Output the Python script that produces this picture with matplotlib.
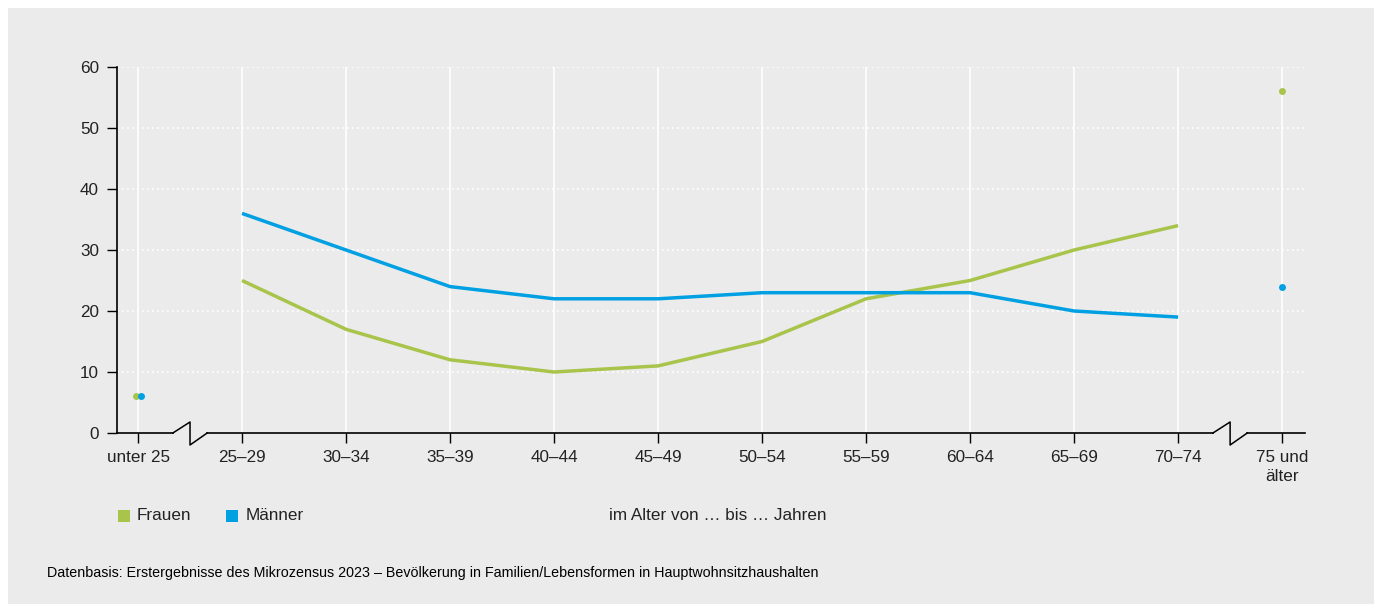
import matplotlib.pyplot as plt
from matplotlib.patches import Rectangle
import matplotlib.transforms as mtransforms

# data
categories = ["unter 25", "25–29", "30–34", "35–39", "40–44", "45–49",
              "50–54", "55–59", "60–64", "65–69", "70–74", "75 und\nälter"]
frauen = [6, 25, 17, 12, 10, 11, 15, 22, 25, 30, 34, 56]
maenner = [6, 36, 30, 24, 22, 22, 23, 23, 23, 20, 19, 24]
yticks = [0, 10, 20, 30, 40, 50, 60]

green = "#a8c44b"
blue = "#00a0e3"
bg = "#ebebeb"
txt = "#222222"
fs = 12.3

plt.rcParams["font.family"] = ["Liberation Sans", "DejaVu Sans"]

fig = plt.figure(figsize=(13.74, 6.04), dpi=100)
fig.patches.append(Rectangle((8 / 1374, 0), 1, 1 - 8 / 604, transform=fig.transFigure,
                             facecolor=bg, edgecolor="none", zorder=-10))

ax = fig.add_axes([117 / 1374, 1 - 433 / 604, (1305 - 117) / 1374, (433 - 67) / 604])
ax.set_facecolor(bg)
ax.set_xlim(-0.202, 11.22)
ax.set_ylim(0, 60)

x = list(range(len(categories)))

# grid
for xi in x:
    ax.axvline(xi, color="white", lw=1.2, zorder=1)
for yv in yticks[1:]:
    ax.axhline(yv, color="white", lw=1.2, ls=(0, (1, 2)), zorder=1)

# lines (25-29 .. 70-74)
ax.plot(x[1:11], frauen[1:11], color=green, lw=2.5, zorder=3, solid_capstyle="butt")
ax.plot(x[1:11], maenner[1:11], color=blue, lw=2.5, zorder=3, solid_capstyle="butt")

# single points
off_l = mtransforms.offset_copy(ax.transData, fig=fig, x=-2.5, y=0, units="dots")
off_r = mtransforms.offset_copy(ax.transData, fig=fig, x=2.5, y=0, units="dots")
ax.plot([x[0]], [frauen[0]], "o", color=green, ms=5, transform=off_l, zorder=4, mec="none")
ax.plot([x[0]], [maenner[0]], "o", color=blue, ms=5, transform=off_r, zorder=4, mec="none")
ax.plot([x[11]], [frauen[11]], "o", color=green, ms=5, zorder=4, mec="none")
ax.plot([x[11]], [maenner[11]], "o", color=blue, ms=5, zorder=4, mec="none")

# spines / ticks
for s in ["top", "right", "bottom"]:
    ax.spines[s].set_visible(False)
ax.spines["left"].set_linewidth(1.2)
ax.set_yticks(yticks)
ax.set_xticks(x)
ax.set_xticklabels(categories, linespacing=1.35)
ax.tick_params(axis="both", length=7, width=1, labelsize=fs, colors="black", labelcolor=txt)
ax.tick_params(axis="y", pad=6)
ax.tick_params(axis="x", pad=5)

# bottom axis with break marks
tr = mtransforms.blended_transform_factory(ax.transData, ax.transAxes)
h_up = 11 / 366
h_dn = 12 / 366
w = 0.165
for c in [0.5, 10.5]:
    ax.plot([c - w, c, c, c + w], [0, h_up, -h_dn, 0], color="black", lw=1.1,
            transform=tr, clip_on=False, zorder=5)
segs = [(-0.202, 0.5 - w), (0.5 + w, 10.5 - w), (10.5 + w, 11.22)]
for a, b in segs:
    ax.plot([a, b], [0, 0], color="black", lw=1.2, transform=tr, clip_on=False, zorder=5)

# legend
fig.patches.append(Rectangle((118 / 1374, 1 - 522 / 604), 12 / 1374, 12 / 604,
                             transform=fig.transFigure, facecolor=green, edgecolor="none"))
fig.text(137 / 1374, 1 - 516 / 604, "Frauen", fontsize=fs, color=txt, va="center")
fig.patches.append(Rectangle((226 / 1374, 1 - 522 / 604), 12 / 1374, 12 / 604,
                             transform=fig.transFigure, facecolor=blue, edgecolor="none"))
fig.text(246 / 1374, 1 - 516 / 604, "Männer", fontsize=fs, color=txt, va="center")
fig.text(718 / 1374, 1 - 516 / 604, "im Alter von … bis … Jahren", fontsize=fs,
         color=txt, va="center", ha="center")

fig.text(47 / 1374, 1 - 573 / 604,
         "Datenbasis: Erstergebnisse des Mikrozensus 2023 – Bevölkerung in Familien/Lebensformen in Hauptwohnsitzhaushalten",
         fontsize=10.3, color="black", va="center")

fig.savefig("out.png", dpi=100, facecolor="white")
